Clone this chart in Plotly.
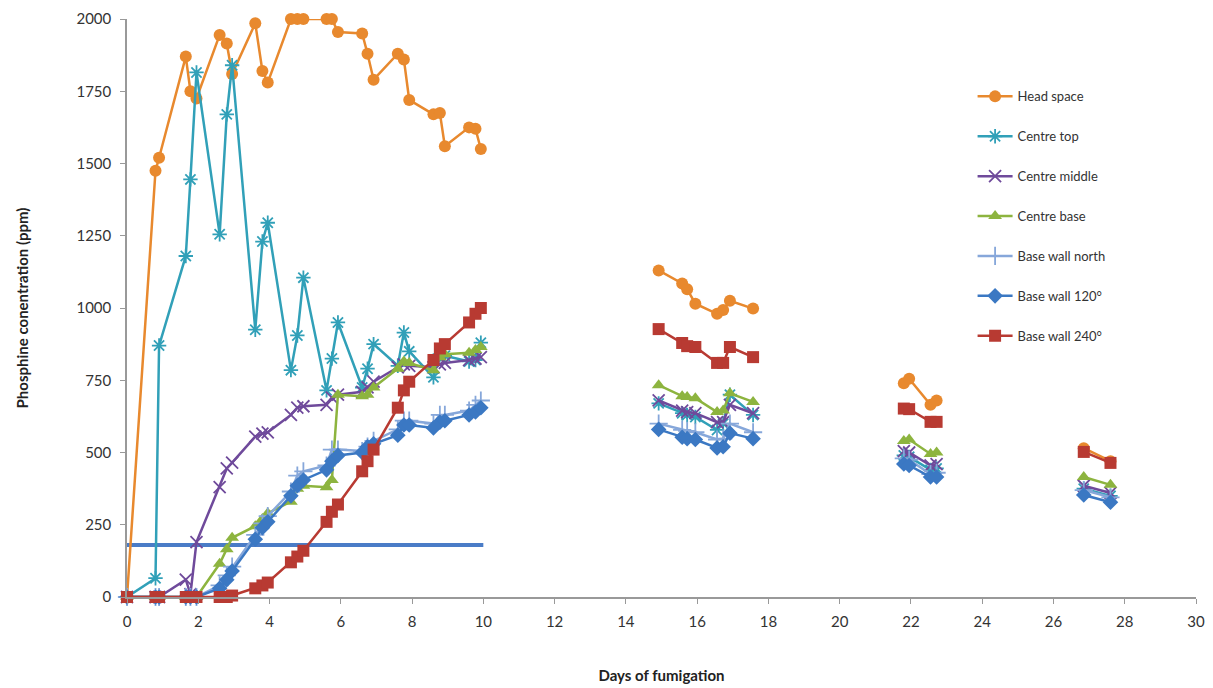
import plotly.graph_objects as go

# ---- data ----
days_a = [0, 0.8, 0.9, 1.65, 1.78, 1.95, 2.6, 2.8, 2.95, 3.6, 3.8, 3.95, 4.6, 4.78, 4.95,
          5.6, 5.75, 5.92, 6.6, 6.75, 6.92, 7.6, 7.77, 7.92, 8.6, 8.78, 8.92, 9.6, 9.78, 9.93]
days_b = [14.92, 15.58, 15.72, 15.95, 16.56, 16.73, 16.92, 17.57]
days_c = [21.8, 21.95, 22.55, 22.72]
days_d = [26.85, 27.6]

head_space = {
    "a": [0, 1475, 1520, 1870, 1750, 1725, 1945, 1915, 1810, 1985, 1820, 1780, 2000, 2000, 2000,
          2000, 2000, 1955, 1950, 1880, 1790, 1880, 1860, 1720, 1670, 1675, 1560, 1625, 1620, 1550],
    "b": [1130, 1085, 1065, 1015, 980, 993, 1025, 998],
    "c": [740, 755, 665, 680],
    "d": [515, 470],
}
centre_top = {
    "a": [0, 65, 870, 1180, 1445, 1815, 1255, 1670, 1840, 925, 1230, 1295, 785, 905, 1105,
          715, 825, 950, 725, 790, 875, 800, 915, 850, 760, 840, 835, 815, 820, 880],
    "b": [670, 636, 630, 623, 578, 600, 700, 630],
    "c": [490, 485, 440, 445],
    "d": [375, 350],
}
centre_middle = {
    "a": [0, 0, 0, 60, 10, 190, 380, 445, 465, 555, 565, 570, 630, 655, 660,
          665, 690, 700, 710, 725, 745, 795, 805, 800, 795, 805, 810, 820, 825, 830],
    "b": [680, 645, 640, 636, 605, 605, 665, 636],
    "c": [505, 500, 455, 460],
    "d": [385, 360],
}
centre_base = {
    "a": [0, 0, 0, 0, 0, 0, 115, 165, 205, 245, 270, 290, 330, 375, 385,
          380, 405, 700, 695, 700, 725, 790, 815, 810, 785, 830, 840, 845, 855, 865],
    "b": [733, 695, 692, 688, 640, 645, 705, 675],
    "c": [540, 545, 495, 500],
    "d": [415, 388],
}
base_wall_north = {
    "a": [0, 0, 0, 0, 0, 0, 40, 75, 105, 215, 255, 280, 365, 420, 435,
          455, 510, 510, 505, 520, 540, 580, 610, 610, 600, 630, 630, 645, 665, 680],
    "b": [600, 578, 575, 570, 545, 548, 600, 570],
    "c": [480, 475, 425, 430],
    "d": [370, 345],
}
base_wall_120 = {
    "a": [0, 0, 0, 0, 0, 0, 30, 60, 90, 200, 240, 260, 350, 385, 405,
          440, 470, 490, 500, 520, 530, 560, 595, 595, 585, 605, 610, 630, 640, 655],
    "b": [580, 553, 548, 545, 516, 520, 567, 548],
    "c": [460, 455, 415, 415],
    "d": [353, 328],
}
base_wall_240 = {
    "a": [0, 0, 0, 0, 0, 0, 0, 0, 5, 30, 40, 50, 120, 140, 160,
          260, 295, 320, 435, 470, 510, 655, 715, 745, 820, 860, 875, 950, 980, 1000],
    "b": [927, 879, 868, 865, 810, 810, 865, 830],
    "c": [652, 650, 606, 606],
    "d": [502, 464],
}
threshold_days = [0, 10]
threshold_ppm = [180, 180]

series_names = ["Head space", "Centre top", "Centre middle", "Centre base",
                "Base wall north", "Base wall 120°", "Base wall 240°"]
series_data = [head_space, centre_top, centre_middle, centre_base,
               base_wall_north, base_wall_120, base_wall_240]

# ---- styles ----
colors = ["#E8892E", "#31A0B8", "#6F4A9B", "#8DB43F", "#86A7DA", "#3B78C3", "#B83A32"]
symbols = ["circle", "asterisk-open", "x-thin-open", "triangle-up", "cross-thin-open",
           "diamond", "square"]
sizes = [12, 12, 12, 12, 13, 12, 12]


def build(d):
    xs, ys = [], []
    groups = [(days_a, d["a"]), (days_b, d["b"]), (days_c, d["c"]), (days_d, d["d"])]
    for i, (gx, gy) in enumerate(groups):
        if i:
            xs.append(None)
            ys.append(None)
        xs.extend(gx)
        ys.extend(gy)
    return xs, ys


fig = go.Figure()
fig.add_trace(go.Scatter(x=threshold_days, y=threshold_ppm, mode="lines",
                         line=dict(color="#4A7CC7", width=4), showlegend=False,
                         hoverinfo="skip"))

for i, (name, d) in enumerate(zip(series_names, series_data)):
    xs, ys = build(d)
    open_sym = symbols[i].endswith("open")
    fig.add_trace(go.Scatter(
        x=xs, y=ys, mode="lines+markers", name=name, legendgroup=name,
        connectgaps=False, cliponaxis=False,
        line=dict(color=colors[i], width=2.5),
        marker=dict(symbol=symbols[i], size=sizes[i], color=colors[i],
                    line=dict(color=colors[i], width=1.8 if open_sym else 0)),
    ))

font_family = "Lato, 'Open Sans', sans-serif"
fig.update_layout(
    width=1213, height=688,
    margin=dict(l=127, r=17, t=19, b=91, autoexpand=False),
    paper_bgcolor="white", plot_bgcolor="white",
    font=dict(family=font_family, size=14, color="#333333"),
    showlegend=True,
    legend=dict(x=0.791, y=0.892, xanchor="left", yanchor="top",
                font=dict(size=13, color="#333333"), tracegroupgap=20,
                traceorder="grouped", bgcolor="rgba(0,0,0,0)", itemwidth=35),
    xaxis=dict(range=[0, 30], tickvals=list(range(0, 31, 2)), showgrid=False,
               zeroline=False, showline=True, linecolor="#999999", linewidth=1.5,
               ticks="outside", ticklen=5, tickcolor="#999999", automargin=False,
               ticklabelstandoff=5,
               title=dict(text="<b>Days of fumigation</b>", font=dict(size=15, color="#222222"),
                          standoff=42),
               tickfont=dict(size=15, color="#333333")),
    yaxis=dict(range=[0, 2000], tickvals=list(range(0, 2001, 250)), showgrid=False,
               zeroline=False, showline=True, linecolor="#999999", linewidth=1.5,
               ticks="outside", ticklen=5, tickcolor="#999999", automargin=False,
               ticklabelstandoff=6,
               title=dict(text="<b>Phosphine conentration (ppm)</b>",
                          font=dict(size=15, color="#222222"), standoff=44),
               tickfont=dict(size=15, color="#333333")),
)

fig.write_html("out.html", config={"displayModeBar": False},
               post_script="document.body.style.margin='0px';document.body.style.overflow='hidden';")
